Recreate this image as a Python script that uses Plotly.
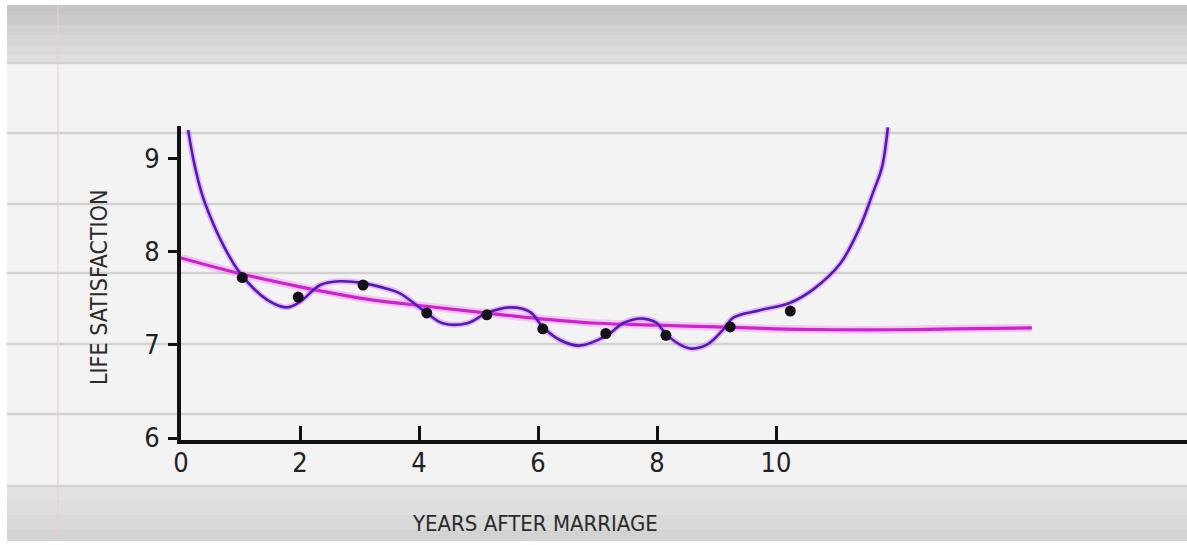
import plotly.graph_objects as go

# ---------------- data ----------------
years_obs = [1.03, 1.97, 3.06, 4.13, 5.14, 6.08, 7.14, 8.15, 9.23, 10.24]
satisfaction_obs = [7.72, 7.51, 7.64, 7.34, 7.32, 7.17, 7.12, 7.10, 7.19, 7.36]

# overfitted (wiggly) curve, purple
overfit_x = [0.12, 0.22, 0.35, 0.50, 0.70, 0.99, 1.45, 1.78, 2.0, 2.34, 2.67, 3.06, 3.46,
             3.68, 4.13, 4.40, 4.81, 5.14, 5.53, 5.87, 6.08, 6.37, 6.68, 7.16, 7.43,
             7.76, 8.0, 8.17, 8.55, 8.84, 9.11, 9.28, 9.73, 10.24, 10.62, 11.08,
             11.41, 11.63, 11.78, 11.88]
overfit_y = [9.30, 8.95, 8.62, 8.36, 8.08, 7.77, 7.48, 7.40, 7.46, 7.64, 7.68, 7.66, 7.60,
             7.55, 7.34, 7.23, 7.23, 7.34, 7.40, 7.35, 7.19, 7.05, 6.99, 7.10, 7.23,
             7.28, 7.23, 7.10, 6.96, 7.00, 7.16, 7.29, 7.37, 7.45, 7.59, 7.87,
             8.26, 8.63, 8.90, 9.33]

# smooth trend curve, magenta
trend_x = [0, 1, 2, 3, 4, 5, 6, 7, 8, 9, 10, 11, 12, 13, 14.3]
trend_y = [7.93, 7.76, 7.62, 7.50, 7.42, 7.35, 7.28, 7.23, 7.21, 7.19, 7.17, 7.16, 7.16, 7.17, 7.18]

x_tick_vals = [0, 2, 4, 6, 8, 10]
x_tick_text = ["0", "2", "4", "6", "8", "10"]
y_tick_vals = [6, 7, 8, 9]
y_tick_text = ["6", "7", "8", "9"]

x_title = "YEARS AFTER MARRIAGE"
y_title = "LIFE SATISFACTION"

# ---------------- layout geometry ----------------
W_FIG, H_FIG = 1187, 545
L, R, T, B = 181, 0, 126, 105
PW = W_FIG - L - R
PH = H_FIG - T - B


def px(x):
    return (x - L) / PW


def py(y):
    return (H_FIG - B - y) / PH


FONT = "DejaVu Sans Condensed, Liberation Sans Narrow, DejaVu Sans, sans-serif"

fig = go.Figure()

# magenta trend: soft glow + line
fig.add_trace(go.Scatter(x=trend_x, y=trend_y, mode="lines",
                         line=dict(color="rgba(235,130,235,0.35)", width=8, shape="spline"),
                         hoverinfo="skip", showlegend=False))
fig.add_trace(go.Scatter(x=trend_x, y=trend_y, mode="lines",
                         line=dict(color="#d020cf", width=3.2, shape="spline"),
                         showlegend=False))

# purple overfit: glow + line
fig.add_trace(go.Scatter(x=overfit_x, y=overfit_y, mode="lines",
                         line=dict(color="rgba(215,80,240,0.35)", width=6, shape="spline", smoothing=1.0),
                         hoverinfo="skip", showlegend=False))
fig.add_trace(go.Scatter(x=overfit_x, y=overfit_y, mode="lines",
                         line=dict(color="#4f1cb8", width=2.6, shape="spline", smoothing=1.0),
                         showlegend=False))

# observed points
fig.add_trace(go.Scatter(x=years_obs, y=satisfaction_obs, mode="markers",
                         marker=dict(color="#141018", size=11),
                         showlegend=False))

shapes = []
# top grey band (gradient approximation)
top_band = [(5, 15, "#c6c6c6"), (15, 25, "#cbcbcb"), (25, 35, "#d1d1d1"),
            (35, 45, "#d6d6d6"), (45, 55, "#dadada"), (55, 62, "#dedede")]
for y0, y1, c in top_band:
    shapes.append(dict(type="rect", xref="paper", yref="paper", layer="below",
                       x0=px(0), x1=px(W_FIG), y0=py(y1), y1=py(y0),
                       fillcolor=c, line=dict(width=0)))
# bottom grey band
bot_band = [(486, 500, "#e2e2e2"), (500, 515, "#dedede"), (515, 530, "#d9d9d9"), (530, 541, "#d3d3d3")]
for y0, y1, c in bot_band:
    shapes.append(dict(type="rect", xref="paper", yref="paper", layer="below",
                       x0=px(0), x1=px(W_FIG), y0=py(y1), y1=py(y0),
                       fillcolor=c, line=dict(width=0)))
# notebook rules
for yy in [63, 133, 204, 273, 344, 414, 486]:
    shapes.append(dict(type="line", xref="paper", yref="paper", layer="below",
                       x0=px(0), x1=px(W_FIG), y0=py(yy), y1=py(yy),
                       line=dict(color="#d2d2d2", width=2.5)))
# faint margin line
shapes.append(dict(type="line", xref="paper", yref="paper", layer="below",
                   x0=px(58), x1=px(58), y0=py(541), y1=py(5),
                   line=dict(color="rgba(235,205,210,0.6)", width=2)))
# white photo borders
shapes.append(dict(type="rect", xref="paper", yref="paper", layer="below",
                   x0=px(0), x1=px(7), y0=py(H_FIG), y1=py(0),
                   fillcolor="white", line=dict(width=0)))
shapes.append(dict(type="rect", xref="paper", yref="paper", layer="below",
                   x0=px(0), x1=px(W_FIG), y0=py(5), y1=py(0),
                   fillcolor="white", line=dict(width=0)))
shapes.append(dict(type="rect", xref="paper", yref="paper", layer="below",
                   x0=px(0), x1=px(W_FIG), y0=py(H_FIG), y1=py(541),
                   fillcolor="white", line=dict(width=0)))

annotations = [
    dict(text=x_title, xref="paper", yref="paper", x=px(535), y=py(523),
         showarrow=False, xanchor="center", yanchor="middle",
         font=dict(family=FONT, size=22, color="#2a2a2a")),
    dict(text=y_title, xref="paper", yref="paper", x=px(99), y=py(288),
         showarrow=False, xanchor="center", yanchor="middle", textangle=-90,
         font=dict(family=FONT, size=23, color="#2a2a2a")),
]

fig.update_layout(
    width=W_FIG, height=H_FIG,
    margin=dict(l=L, r=R, t=T, b=B, pad=0),
    paper_bgcolor="#f3f3f3",
    plot_bgcolor="rgba(0,0,0,0)",
    shapes=shapes,
    annotations=annotations,
    showlegend=False,
)
fig.update_xaxes(range=[0, PW / 59.5], showgrid=False, zeroline=False,
                 showline=True, linecolor="#111", linewidth=4,
                 ticks="inside", ticklen=14, tickwidth=2.5, tickcolor="#111",
                 tickvals=x_tick_vals, ticktext=x_tick_text,
                 tickfont=dict(family=FONT, size=27, color="#222"),
                 ticklabelstandoff=-4, automargin=False)
fig.update_yaxes(range=[6 - 2 / 93.3, 6 - 2 / 93.3 + PH / 93.3], showgrid=False, zeroline=False,
                 showline=True, linecolor="#111", linewidth=4,
                 ticks="outside", ticklen=9, tickwidth=2.5, tickcolor="#111",
                 tickvals=y_tick_vals, ticktext=y_tick_text,
                 tickfont=dict(family=FONT, size=27, color="#222"),
                 ticklabelstandoff=3, automargin=False)

fig.write_html("out.html", config={"displayModeBar": False},
               post_script="document.body.style.margin='0px';document.body.style.overflow='hidden';")
